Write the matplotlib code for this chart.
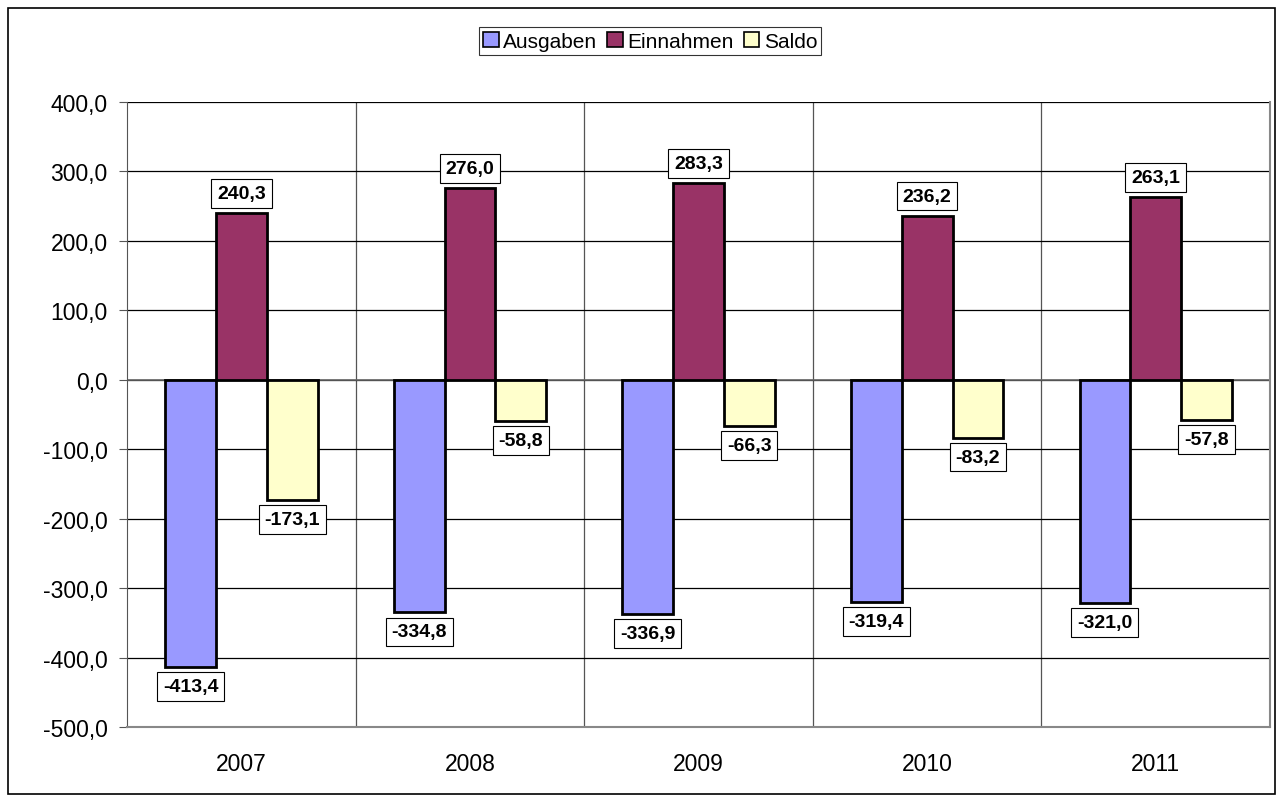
import numpy as np
import matplotlib.pyplot as plt
from matplotlib.ticker import FuncFormatter

plt.rcParams['font.family'] = ['Liberation Sans', 'DejaVu Sans']

years = ['2007', '2008', '2009', '2010', '2011']
ausgaben = [-413.4, -334.8, -336.9, -319.4, -321.0]
einnahmen = [240.3, 276.0, 283.3, 236.2, 263.1]
saldo = [-173.1, -58.8, -66.3, -83.2, -57.8]

series = [('Ausgaben', ausgaben, '#9999ff'),
          ('Einnahmen', einnahmen, '#993366'),
          ('Saldo', saldo, '#ffffcc')]

fig = plt.figure(figsize=(12.84, 8.04), dpi=100)
# outer chart frame
fig.patches.append(plt.Rectangle((8 / 1284, 9 / 804), 1267 / 1284, 786 / 804,
                                 transform=fig.transFigure, fill=False,
                                 edgecolor='black', linewidth=1.2))
ax = fig.add_axes([127 / 1284, 76 / 804, 1143 / 1284, 625 / 804])

x = np.arange(len(years))
w = 1 / 4.5
for i, (name, vals, col) in enumerate(series):
    pos = x + (i - 1) * w
    ax.bar(pos, vals, width=w, color=col, edgecolor='black', linewidth=2,
           label=name, zorder=3)
    for xp, v in zip(pos, vals):
        off = 8 if v >= 0 else -8
        ax.annotate(f'{v:.1f}'.replace('.', ','), (xp, v), xytext=(0, off),
                    textcoords='offset points', ha='center',
                    va='bottom' if v >= 0 else 'top', fontsize=14,
                    fontweight='bold', zorder=5,
                    bbox=dict(boxstyle='square,pad=0.3', fc='white',
                              ec='black', lw=0.8))

ax.set_xlim(-0.5, len(years) - 0.5)
ax.set_ylim(-500, 400)
ax.set_yticks(np.arange(-500, 401, 100))
ax.yaxis.set_major_formatter(FuncFormatter(lambda v, p: f'{v:.1f}'.replace('.', ',')))
ax.set_xticks(x)
ax.set_xticklabels(years)
ax.tick_params(axis='x', length=0, labelsize=16.5, pad=18)
ax.tick_params(axis='y', length=6, labelsize=16.5, color='#555555',
               direction='out', pad=8)

# gridlines
ax.grid(axis='y', color='black', linewidth=0.9, zorder=0)
for b in x[:-1] + 0.5:
    ax.axvline(b, color='#555555', linewidth=0.9, zorder=0)
ax.axhline(0, color='#666666', linewidth=1.2, zorder=2)

ax.spines['top'].set_visible(False)
ax.spines['right'].set_color('#888888')
ax.spines['right'].set_linewidth(1.5)
ax.spines['left'].set_color('#555555')
ax.spines['bottom'].set_color('#888888')
ax.spines['bottom'].set_linewidth(1.5)

leg = fig.legend(loc='center', bbox_to_anchor=(650 / 1284, 1 - 42 / 804), ncol=3,
                 fontsize=15, frameon=True, fancybox=False, edgecolor='black',
                 handlelength=0.75, handleheight=0.75, handletextpad=0.2,
                 columnspacing=0.5, borderpad=0.2, borderaxespad=0)
leg.get_frame().set_linewidth(0.8)
for h in leg.legend_handles:
    h.set_linewidth(1.2)

fig.savefig('out.png', dpi=100)
